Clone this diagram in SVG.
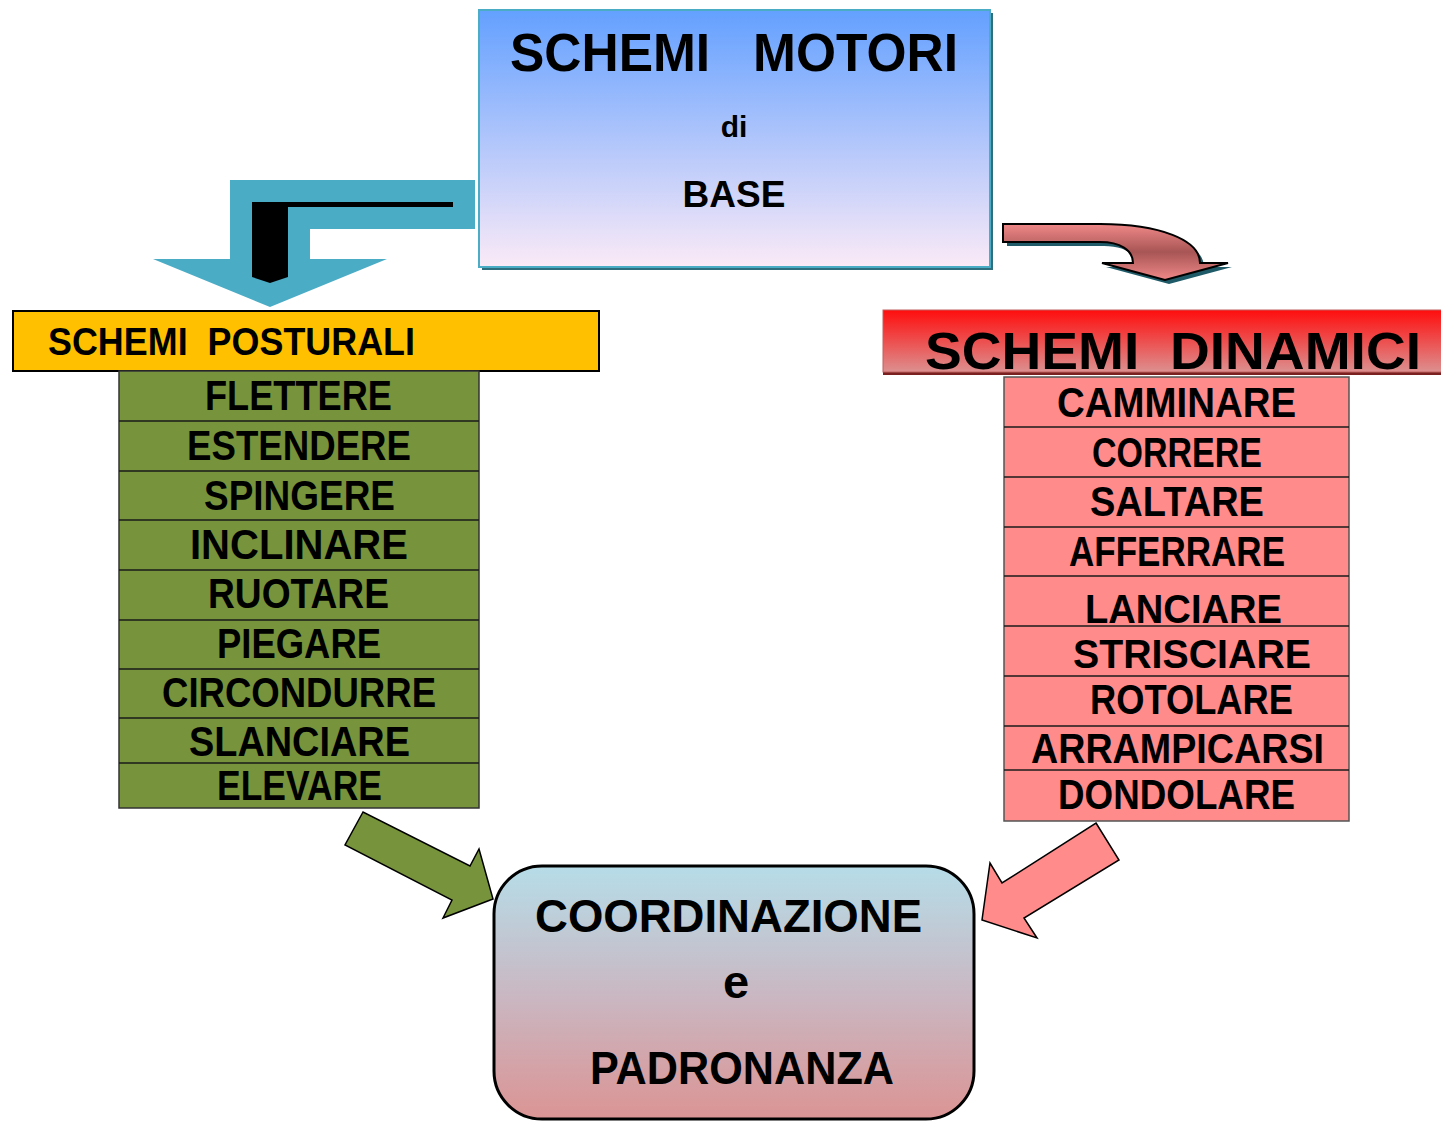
<svg xmlns="http://www.w3.org/2000/svg" width="1441" height="1121" viewBox="0 0 1441 1121">
<defs>
<linearGradient id="gTop" x1="0" y1="0" x2="0" y2="1">
<stop offset="0" stop-color="#63a0ff"/>
<stop offset="1" stop-color="#fbeaf7"/>
</linearGradient>
<linearGradient id="gDin" x1="0" y1="0" x2="0" y2="1">
<stop offset="0" stop-color="#ff0d0d"/>
<stop offset="1" stop-color="#dc9090"/>
</linearGradient>
<linearGradient id="gBot" x1="0" y1="0" x2="0" y2="1">
<stop offset="0" stop-color="#b6dde8"/>
<stop offset="0.5" stop-color="#c9b8c3"/>
<stop offset="1" stop-color="#db9494"/>
</linearGradient>
<linearGradient id="gCurve" x1="0" y1="0" x2="0" y2="1">
<stop offset="0" stop-color="#f08888"/>
<stop offset="0.5" stop-color="#a85555"/>
<stop offset="1" stop-color="#f08888"/>
</linearGradient>
<style>
.c{font-family:"Liberation Sans",Arial,sans-serif;font-weight:bold;fill:#000}
.pre{white-space:pre}
.sep{stroke:#1a1a1a;stroke-width:1.5}
.green{fill:#77933c;stroke:#333;stroke-width:1.5}
.pink{fill:#ff8b8b;stroke:#555;stroke-width:1.5}
</style>
</defs>

<g id="schemi-motori">
<rect x="482" y="13" width="511" height="257" fill="#2f6e7c"/>
<rect x="479" y="10" width="511" height="257" fill="url(#gTop)" stroke="#4bacc6" stroke-width="2"/>
<text class="c pre" xml:space="preserve" x="510" y="71" font-size="53" textLength="448" lengthAdjust="spacingAndGlyphs">SCHEMI   MOTORI</text>
<text class="c" x="734" y="137" font-size="30" text-anchor="middle">di</text>
<text class="c" x="734" y="207" font-size="37" text-anchor="middle">BASE</text>
</g>

<g id="connectors">
<polygon points="230,180 475,180 475,229 310,229 310,259 387,259 270,307 153,259 230,259" fill="#4bacc6"/>
<polygon points="252,202 453,202 453,207 288,207 288,277 270,283 252,277" fill="#000"/>
<path d="M1007,228 L1104,228 C1164,228 1204,244 1204,267 L1232,267 L1169,284 L1106,267 L1137,267 C1137,254 1124,246 1104,246 L1007,246 Z" fill="#1f5a68"/>
<path d="M1003,224 L1100,224 C1160,224 1200,240 1200,263 L1228,263 L1165,280 L1102,263 L1133,263 C1133,250 1120,242 1100,242 L1003,242 Z" fill="url(#gCurve)" stroke="#000" stroke-width="2"/>
<polygon points="363,812 345,845 452,900 443,918 493,899 479,849 470,866" fill="#77933c" stroke="#000" stroke-width="1.5"/>
<polygon points="1096,823 1119,860 1024,918 1037,938 982,920 990,863 1002,883" fill="#ff8b8b" stroke="#000" stroke-width="1.5"/>
</g>

<g id="schemi-posturali">
<rect x="13" y="311" width="586" height="60" fill="#ffc000" stroke="#000" stroke-width="2"/>
<text class="c pre" xml:space="preserve" x="48" y="355" font-size="38" textLength="367" lengthAdjust="spacingAndGlyphs">SCHEMI  POSTURALI</text>
</g>

<g id="lista-posturali">
<rect class="green" x="119" y="371" width="360" height="437"/>
<line class="sep" x1="119" y1="421" x2="479" y2="421"/>
<line class="sep" x1="119" y1="471" x2="479" y2="471"/>
<line class="sep" x1="119" y1="520" x2="479" y2="520"/>
<line class="sep" x1="119" y1="570" x2="479" y2="570"/>
<line class="sep" x1="119" y1="620" x2="479" y2="620"/>
<line class="sep" x1="119" y1="669" x2="479" y2="669"/>
<line class="sep" x1="119" y1="718" x2="479" y2="718"/>
<line class="sep" x1="119" y1="763" x2="479" y2="763"/>
<text class="c" x="205" y="410" font-size="42" textLength="187" lengthAdjust="spacingAndGlyphs">FLETTERE</text>
<text class="c" x="187" y="460" font-size="42" textLength="224" lengthAdjust="spacingAndGlyphs">ESTENDERE</text>
<text class="c" x="204" y="510" font-size="42" textLength="191" lengthAdjust="spacingAndGlyphs">SPINGERE</text>
<text class="c" x="190" y="559" font-size="42" textLength="218" lengthAdjust="spacingAndGlyphs">INCLINARE</text>
<text class="c" x="208" y="608" font-size="42" textLength="181" lengthAdjust="spacingAndGlyphs">RUOTARE</text>
<text class="c" x="217" y="658" font-size="42" textLength="164" lengthAdjust="spacingAndGlyphs">PIEGARE</text>
<text class="c" x="162" y="707" font-size="42" textLength="274" lengthAdjust="spacingAndGlyphs">CIRCONDURRE</text>
<text class="c" x="189" y="756" font-size="42" textLength="221" lengthAdjust="spacingAndGlyphs">SLANCIARE</text>
<text class="c" x="217" y="800" font-size="42" textLength="165" lengthAdjust="spacingAndGlyphs">ELEVARE</text>
</g>

<g id="schemi-dinamici">
<rect x="883" y="313" width="570" height="62" fill="#7a2020"/>
<rect x="883" y="310" width="570" height="62" fill="url(#gDin)" stroke="#c06060" stroke-width="1"/>
<text class="c pre" xml:space="preserve" x="925" y="369" font-size="51" textLength="496" lengthAdjust="spacingAndGlyphs">SCHEMI  DINAMICI</text>
</g>

<g id="lista-dinamici">
<rect class="pink" x="1004" y="377" width="345" height="444"/>
<line class="sep" x1="1004" y1="427" x2="1349" y2="427"/>
<line class="sep" x1="1004" y1="477" x2="1349" y2="477"/>
<line class="sep" x1="1004" y1="527" x2="1349" y2="527"/>
<line class="sep" x1="1004" y1="576" x2="1349" y2="576"/>
<line class="sep" x1="1004" y1="626" x2="1349" y2="626"/>
<line class="sep" x1="1004" y1="676" x2="1349" y2="676"/>
<line class="sep" x1="1004" y1="726" x2="1349" y2="726"/>
<line class="sep" x1="1004" y1="770" x2="1349" y2="770"/>
<text class="c" x="1057" y="417" font-size="42" textLength="239" lengthAdjust="spacingAndGlyphs">CAMMINARE</text>
<text class="c" x="1092" y="467" font-size="42" textLength="170" lengthAdjust="spacingAndGlyphs">CORRERE</text>
<text class="c" x="1090" y="516" font-size="42" textLength="174" lengthAdjust="spacingAndGlyphs">SALTARE</text>
<text class="c" x="1069" y="566" font-size="42" textLength="216" lengthAdjust="spacingAndGlyphs">AFFERRARE</text>
<text class="c" x="1085" y="623" font-size="40" textLength="197" lengthAdjust="spacingAndGlyphs">LANCIARE</text>
<text class="c" x="1073" y="668" font-size="40" textLength="238" lengthAdjust="spacingAndGlyphs">STRISCIARE</text>
<text class="c" x="1090" y="714" font-size="42" textLength="203" lengthAdjust="spacingAndGlyphs">ROTOLARE</text>
<text class="c" x="1031" y="763" font-size="42" textLength="293" lengthAdjust="spacingAndGlyphs">ARRAMPICARSI</text>
<text class="c" x="1058" y="809" font-size="42" textLength="237" lengthAdjust="spacingAndGlyphs">DONDOLARE</text>
</g>

<g id="coordinazione">
<rect x="494" y="866" width="480" height="253" rx="48" ry="48" fill="url(#gBot)" stroke="#000" stroke-width="3"/>
<text class="c" x="535" y="932" font-size="47" textLength="387" lengthAdjust="spacingAndGlyphs">COORDINAZIONE</text>
<text class="c" x="736" y="998" font-size="47" text-anchor="middle">e</text>
<text class="c" x="590" y="1084" font-size="47" textLength="304" lengthAdjust="spacingAndGlyphs">PADRONANZA</text>
</g>
</svg>
